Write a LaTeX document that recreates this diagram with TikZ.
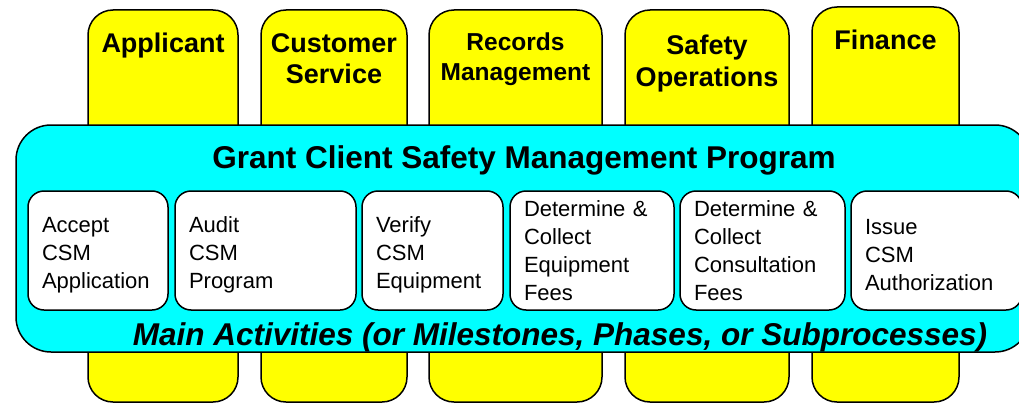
\documentclass[tikz,border=0pt]{standalone}
\usepackage{fontspec}
\setmainfont{Liberation Sans}
\definecolor{laneyellow}{HTML}{FFFF00}
\definecolor{progcyan}{HTML}{00FFFF}
\newcommand{\toppad}{\rule{0pt}{24.5pt}}
\begin{document}
\begin{tikzpicture}[x=1pt,y=-1pt,
  lane/.style={draw=black,line width=1.5pt,fill=laneyellow,rounded corners=25pt,inner sep=0pt},
  prog/.style={draw=black,line width=1.5pt,fill=progcyan,rounded corners=35pt,inner sep=0pt},
  act/.style={draw=black,line width=1.5pt,fill=white,rounded corners=16pt,inner xsep=14pt,inner ysep=0pt,
    align=left,minimum height=119pt,font=\fontsize{22}{28}\selectfont},
  lanelabel/.style={font=\fontsize{27}{31}\selectfont\bfseries,align=center,anchor=base,inner sep=0pt},
]
\clip (0,0) rectangle (1019,404);
\useasboundingbox (0,0) rectangle (1019,404);
% swim lanes
\node[lane,minimum width=150pt,minimum height=392pt] (l1) at (163,206) {};
\node[lane,minimum width=146pt,minimum height=392pt] (l2) at (334,206) {};
\node[lane,minimum width=173pt,minimum height=392pt] (l3) at (515.5,206) {};
\node[lane,minimum width=164pt,minimum height=392pt] (l4) at (707,206) {};
\node[lane,minimum width=147pt,minimum height=395pt] (l5) at (885.5,204.5) {};
% lane labels
\node[lanelabel] (t1) at (163,52.5) {Applicant};
\node[lanelabel] (t2) at (334,83) {Customer\\Service};
\node[lanelabel,font=\fontsize{24.5}{29.5}\selectfont\bfseries] (t3) at (515.5,80.5) {Records\\Management};
\node[lanelabel,font=\fontsize{27}{31.5}\selectfont\bfseries] (t4) at (707,86) {Safety\\Operations};
\node[lanelabel] (t5) at (885.5,49) {Finance};
% program box
\node[prog,minimum width=1014pt,minimum height=227pt] (prog) at (523,238.5) {};
\node[font=\fontsize{31.5}{31.5}\selectfont\bfseries,anchor=base,inner sep=0pt] (title) at (524,168.5) {Grant Client Safety Management Program};
% activities
\node[act,text width=112pt] (a1) at (98,250.5) {\toppad Accept\\CSM\\Application};
\node[act,text width=153pt] (a2) at (265.5,250.5) {\toppad Audit\\CSM\\Program};
\node[act,text width=113pt] (a3) at (432.5,250.5) {\toppad Verify\\CSM\\Equipment};
\node[act,text width=136pt] (a4) at (592,250.5) {Determine \&\\Collect\\Equipment\\Fees};
\node[act,text width=137pt] (a5) at (762.5,250.5) {Determine \&\\Collect\\Consultation\\Fees};
\node[act,text width=143pt] (a6) at (936.5,250.5) {\toppad Issue\\CSM\\Authorization};
\node[font=\fontsize{31.5}{31.5}\selectfont\bfseries\itshape,anchor=base,inner sep=0pt] (sub) at (560,345) {Main Activities (or Milestones, Phases, or Subprocesses)};
\end{tikzpicture}
\end{document}
